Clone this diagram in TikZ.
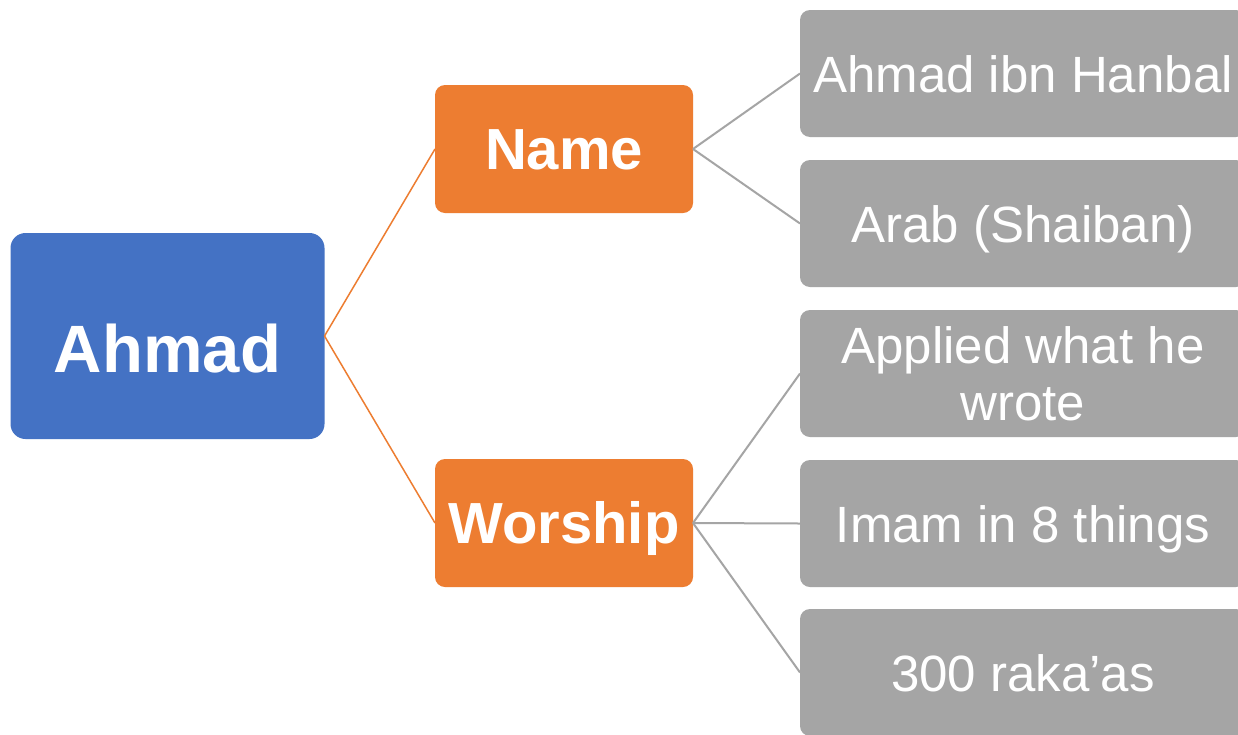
\documentclass[tikz,border=0pt]{standalone}
\usepackage{fontspec}
\setmainfont{Liberation Sans}
\definecolor{cblue}{HTML}{4472C4}
\definecolor{corange}{HTML}{ED7D31}
\definecolor{cgray}{HTML}{A5A5A5}
\begin{document}
\begin{tikzpicture}[x=1pt,y=-1pt,
  box/.style={rectangle, inner sep=0pt, outer sep=0pt, text=white},
  root/.style={box, fill=cblue, rounded corners=15pt, minimum width=314pt, minimum height=206pt,
    font=\bfseries\fontsize{67}{72}\selectfont, text height=72pt, text depth=0pt},
  mid/.style={box, fill=corange, rounded corners=10pt, minimum width=258pt, minimum height=128pt,
    font=\bfseries\fontsize{58}{64}\selectfont, text height=40pt, text depth=0pt},
  leaf/.style={box, fill=cgray, rounded corners=10pt, minimum width=446pt, minimum height=127pt,
    font=\fontsize{51}{57}\selectfont, align=center},
  leafone/.style={leaf, text height=37pt, text depth=0pt},
  olink/.style={draw=corange, line width=1.5pt},
  glink/.style={draw=cgray, line width=2pt}]
\useasboundingbox (0,0) rectangle (1238,734);
\clip (0,0) rectangle (1238,734);
\fill[white] (0,0) rectangle (1238,734);
\node[root] (ahmad) at (167.5,336) {Ahmad};
\node[mid] (name) at (564,149) {Name};
\node[mid] (worship) at (564,523) {Worship};
\node[leafone] (l1) at (1023,73.5) {Ahmad ibn Hanbal};
\node[leafone] (l2) at (1023,223.5) {Arab (Shaiban)};
\node[leaf] (l3) at (1023,373.5) {Applied what he\\wrote};
\node[leafone] (l4) at (1023,523.5) {Imam in 8 things};
\node[leafone] (l5) at (1023,672.5) {300 raka’as};
\draw[olink] (ahmad.east) -- (name.west);
\draw[olink] (ahmad.east) -- (worship.west);
\draw[glink] (name.east) -- (l1.west);
\draw[glink] (name.east) -- (l2.west);
\draw[glink] (worship.east) -- (l3.west);
\draw[glink] (worship.east) -- (l4.west);
\draw[glink] (worship.east) -- (l5.west);
\end{tikzpicture}
\end{document}
